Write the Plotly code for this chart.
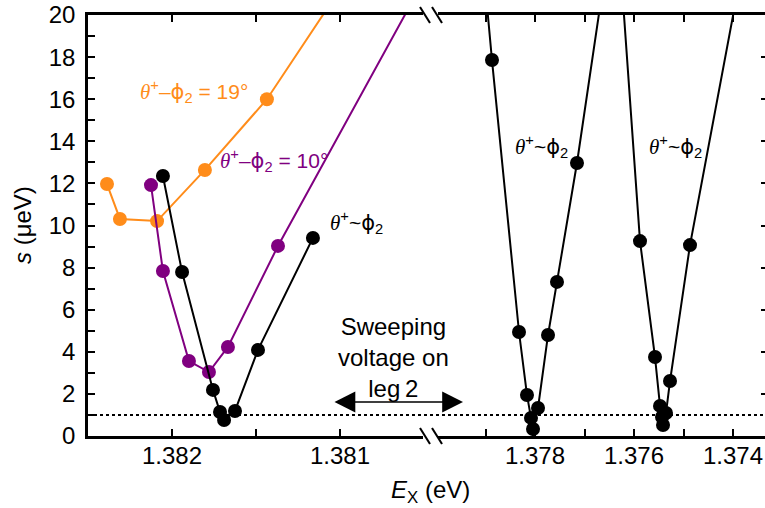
import plotly.graph_objects as go

# ---- data: splitting s (µeV) versus exciton energy E_X (eV) ----
# left panel (high-energy dot, fine scale)
orange_x = [1.382387, 1.382310, 1.382089, 1.381804, 1.381435, 1.380935]
orange_y = [11.97, 10.31, 10.21, 12.64, 16.00, 22.00]

purple_x = [1.382125, 1.382054, 1.381899, 1.381780, 1.381667, 1.381369, 1.380476]
purple_y = [11.92, 7.84, 3.56, 3.04, 4.23, 9.03, 22.00]

black1_x = [1.382054, 1.381940, 1.381756, 1.381714, 1.381690, 1.381625, 1.381488, 1.381161]
black1_y = [12.35, 7.79, 2.19, 1.14, 0.76, 1.19, 4.09, 9.41]

# right panel (coarse scale)
black2_x = [1.379030, 1.378869, 1.378323, 1.378162, 1.378081, 1.378040,
            1.377939, 1.377737, 1.377556, 1.377152, 1.376586]
black2_y = [22.00, 17.86, 4.94, 1.95, 0.86, 0.33, 1.33, 4.80, 7.32, 12.97, 22.00]

black3_x = [1.376263, 1.375879, 1.375576, 1.375475, 1.375434, 1.375414,
            1.375354, 1.375273, 1.374869, 1.373838]
black3_y = [22.00, 9.26, 3.75, 1.43, 0.90, 0.52, 1.09, 2.61, 9.07, 22.00]

threshold = 1.0

left_ticks = [1.382, 1.381]
left_minor = [1.3815]
right_ticks = [1.378, 1.376, 1.374]
right_minor = [1.379, 1.377, 1.375]

left_range = [1.3825, 1.380464]
right_range = [1.380121, 1.373354]

ORANGE = "#ff8c1a"
PURPLE = "#800080"
BLACK = "#000000"
FONT = "Liberation Sans"
SERIF = "Liberation Serif"

W, H = 765, 508
ML, MR, MT, MB = 88, 0, 15, 72
PW, PH = W - ML - MR, H - MT - MB
split = (430 - ML) / PW  # where the axis is broken


def px(xp):
    return (xp - ML) / PW


def py(yp):
    return (H - MB - yp) / PH


theta = "<i><span style=\"font-family:%s\">θ</span></i>" % SERIF
phi = "<span style=\"font-family:DejaVu Sans\">ϕ</span>"


def lbl(op, tail=""):
    return theta + "<sup>+</sup>" + op + phi + "<sub>2</sub>" + tail


fig = go.Figure()

mk = dict(size=14, line=dict(width=0))
fig.add_trace(go.Scatter(x=orange_x, y=orange_y, mode="lines+markers",
                         line=dict(color=ORANGE, width=2),
                         marker=dict(color=ORANGE, **mk), xaxis="x", yaxis="y"))
fig.add_trace(go.Scatter(x=purple_x, y=purple_y, mode="lines+markers",
                         line=dict(color=PURPLE, width=2),
                         marker=dict(color=PURPLE, **mk), xaxis="x", yaxis="y"))
fig.add_trace(go.Scatter(x=black1_x, y=black1_y, mode="lines+markers",
                         line=dict(color=BLACK, width=2),
                         marker=dict(color=BLACK, **mk), xaxis="x", yaxis="y"))
fig.add_trace(go.Scatter(x=black2_x, y=black2_y, mode="lines+markers",
                         line=dict(color=BLACK, width=2),
                         marker=dict(color=BLACK, **mk), xaxis="x2", yaxis="y2"))
fig.add_trace(go.Scatter(x=black3_x, y=black3_y, mode="lines+markers",
                         line=dict(color=BLACK, width=2),
                         marker=dict(color=BLACK, **mk), xaxis="x2", yaxis="y2"))

tickfont = dict(family=FONT, size=24, color=BLACK)
xcommon = dict(showline=True, linecolor=BLACK, linewidth=2.5, mirror="ticks",
               ticks="inside", ticklen=7, tickwidth=2, tickcolor=BLACK,
               showgrid=False, zeroline=False, tickfont=tickfont,
               ticklabelstandoff=-4)

fig.update_layout(
    width=W, height=H,
    margin=dict(l=ML, r=MR, t=MT, b=MB),
    paper_bgcolor="white", plot_bgcolor="white",
    showlegend=False,
    xaxis=dict(domain=[0, split], range=left_range, anchor="y",
               tickmode="array", tickvals=left_ticks,
               ticktext=["%.3f" % v for v in left_ticks],
               minor=dict(tickmode="array", tickvals=left_minor, ticks="inside",
                          ticklen=7, tickwidth=2, tickcolor=BLACK),
               **xcommon),
    xaxis2=dict(domain=[split, 1], range=right_range, anchor="y2",
                tickmode="array", tickvals=right_ticks,
                ticktext=["%.3f" % v for v in right_ticks],
                minor=dict(tickmode="array", tickvals=right_minor, ticks="inside",
                           ticklen=7, tickwidth=2, tickcolor=BLACK),
                **xcommon),
    yaxis=dict(range=[0, 20], anchor="x", showline=True, linecolor=BLACK,
               linewidth=2.5, ticks="inside", ticklen=7, tickwidth=2,
               tickcolor=BLACK, dtick=2, showgrid=False, zeroline=False,
               tickfont=tickfont, ticklabelstandoff=5,
               minor=dict(dtick=1, ticks="inside", ticklen=7, tickwidth=2,
                          tickcolor=BLACK)),
    yaxis2=dict(range=[0, 20], anchor="x2", overlaying="y", side="right",
                matches="y", showline=False, ticks="inside", ticklen=4,
                tickwidth=2, tickcolor=BLACK, dtick=2, showticklabels=False,
                showgrid=False, zeroline=False),
)

# dotted threshold line across both panels
fig.add_shape(type="line", xref="paper", yref="y", x0=0, x1=1,
              y0=threshold, y1=threshold,
              line=dict(color=BLACK, width=2, dash="dot"), layer="above")

# axis-break marks on bottom and top axes
for yb in (0.0, 1.0):
    fig.add_shape(type="rect", xref="paper", yref="paper",
                  x0=split - 7 / PW, x1=split + 8 / PW,
                  y0=yb - 3 / PH, y1=yb + 3 / PH,
                  line=dict(width=0), fillcolor="white", layer="above")
    for dx in (-5, 7):
        cx = split + dx / PW
        fig.add_shape(type="line", xref="paper", yref="paper",
                      x0=cx - 5 / PW, x1=cx + 5 / PW,
                      y0=yb + 8 / PH, y1=yb - 8 / PH,
                      line=dict(color=BLACK, width=2), layer="above")

ann = []
lab_font = 21
ann.append(dict(x=px(138), y=py(75), xref="paper", yref="paper",
                text=lbl("–", " = 19°"), showarrow=False, xanchor="left",
                font=dict(family=FONT, size=lab_font, color=ORANGE)))
ann.append(dict(x=px(218), y=py(160), xref="paper", yref="paper",
                text=lbl("–", " = 10°"), showarrow=False, xanchor="left",
                font=dict(family=FONT, size=lab_font, color=PURPLE)))
for xl, yl in ((328, 222), (513, 130), (647, 130)):
    ann.append(dict(x=px(xl), y=py(yl), xref="paper", yref="paper",
                    text=lbl("~"), showarrow=False, xanchor="left",
                    font=dict(family=FONT, size=lab_font, color=BLACK)))

ann.append(dict(x=px(393), y=py(357), xref="paper", yref="paper",
                text="Sweeping<br>voltage on<br>leg\u20092", showarrow=False,
                xanchor="center", yanchor="middle", align="center",
                font=dict(family=FONT, size=24, color=BLACK)))
# double-headed arrow
ann.append(dict(x=px(463), y=py(402), xref="paper", yref="paper",
                ax=-130, ay=0, axref="pixel", ayref="pixel",
                text="", showarrow=True, arrowside="end+start", arrowhead=2,
                arrowsize=2.6, arrowwidth=1.6, arrowcolor=BLACK,
                standoff=0, startstandoff=0))

# axis titles
ann.append(dict(x=px(430), y=py(491), xref="paper", yref="paper",
                text="<i>E</i><sub>X</sub> (eV)", showarrow=False,
                xanchor="center", yanchor="middle",
                font=dict(family=FONT, size=24, color=BLACK)))
ann.append(dict(x=px(22), y=py(225), xref="paper", yref="paper",
                text="<i>s</i> (μeV)", showarrow=False, textangle=-90,
                xanchor="center", yanchor="middle",
                font=dict(family=FONT, size=24, color=BLACK)))

fig.update_layout(annotations=ann)

fig.write_html("out.html")
